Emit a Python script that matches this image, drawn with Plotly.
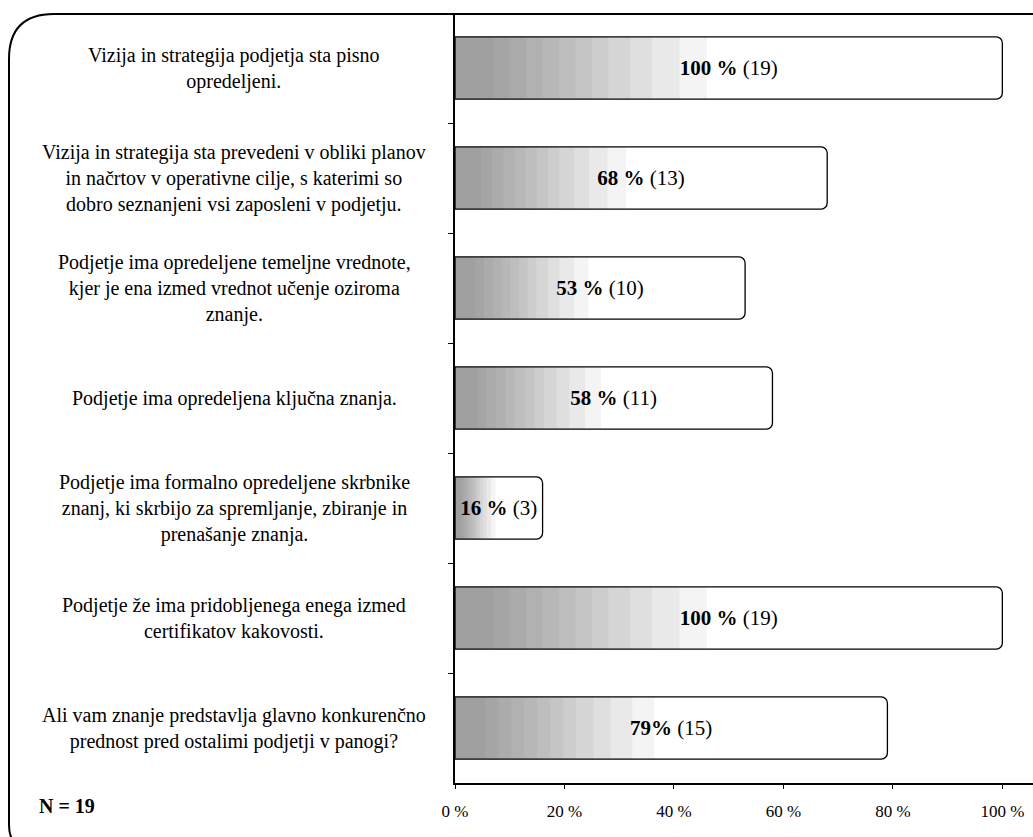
import plotly.graph_objects as go

categories = [
    "Vizija in strategija podjetja sta pisno<br>opredeljeni.",
    "Vizija in strategija sta prevedeni v obliki planov<br>in načrtov v operativne cilje, s katerimi so<br>dobro seznanjeni vsi zaposleni v podjetju.",
    "Podjetje ima opredeljene temeljne vrednote,<br>kjer je ena izmed vrednot učenje oziroma<br>znanje.",
    "Podjetje ima opredeljena ključna znanja.",
    "Podjetje ima formalno opredeljene skrbnike<br>znanj, ki skrbijo za spremljanje, zbiranje in<br>prenašanje znanja.",
    "Podjetje že ima pridobljenega enega izmed<br>certifikatov kakovosti.",
    "Ali vam znanje predstavlja glavno konkurenčno<br>prednost pred ostalimi podjetji v panogi?",
]
percent = [100, 68, 53, 58, 16, 100, 79]
counts = [19, 13, 10, 11, 3, 19, 15]
pct_labels = ["100 %", "68 %", "53 %", "58 %", "16 %", "100 %", "79%"]
x_tick_values = [0, 20, 40, 60, 80, 100]
x_tick_labels = ["0 %", "20 %", "40 %", "60 %", "80 %", "100 %"]
sample_note = "N = 19"

W, H = 1033, 837
L, R, T, B = 455, 0, 13, 54
PW, PH = W - L - R, H - T - B
FONT = "Liberation Serif, Times New Roman, serif"


def px(x):
    return (x - L) / PW


def py(y):
    return (H - B - y) / PH


fig = go.Figure()

# gradient layers (smooth fade from left)
fade_fracs = [0.46, 0.41, 0.36, 0.32, 0.28, 0.25, 0.22, 0.19, 0.16, 0.13, 0.10, 0.07]
for frac in fade_fracs:
    fig.add_trace(go.Bar(
        y=categories, x=[v * frac for v in percent], orientation="h",
        marker=dict(color="rgba(100,100,100,0.072)", line=dict(width=0), cornerradius=4),
        hoverinfo="skip", showlegend=False,
    ))

# outlined bar with label
fig.add_trace(go.Bar(
    y=categories, x=percent, orientation="h",
    marker=dict(color="rgba(0,0,0,0)", line=dict(color="black", width=1.3), cornerradius=6),
    text=[f"<b>{p}</b> ({c})" for p, c in zip(pct_labels, counts)],
    textposition="inside", insidetextanchor="middle", constraintext="none",
    textfont=dict(family=FONT, size=21, color="black"),
    showlegend=False,
))

annotations = []
for c in categories:
    annotations.append(dict(
        x=px(234), xref="paper", y=c, yref="y", text=c, showarrow=False,
        xanchor="center", yanchor="middle", align="center",
        font=dict(family=FONT, size=20, color="black"),
    ))
annotations.append(dict(
    x=px(37), xref="paper", y=py(806), yref="paper", text=f"<b>{sample_note}</b>",
    showarrow=False, xanchor="left", yanchor="middle",
    font=dict(family=FONT, size=20, color="black"),
))

# rounded outer frame
x0, x1 = px(9), px(1050)
y0, y1 = py(14), py(850)
rx_tl, ry_tl = 45 / PW, 45 / PH
rx_bl, ry_bl = 25 / PW, 25 / PH
frame_path = (
    f"M {x0},{y0 - ry_tl} Q {x0},{y0} {x0 + rx_tl},{y0} "
    f"L {x1},{y0} L {x1},{y1} L {x0 + rx_bl},{y1} "
    f"Q {x0},{y1} {x0},{y1 + ry_bl} Z"
)

fig.update_layout(
    width=W, height=H,
    margin=dict(l=L, r=R, t=T, b=B),
    paper_bgcolor="white", plot_bgcolor="white",
    barmode="overlay", bargap=0.435,
    annotations=annotations,
    shapes=[dict(type="path", path=frame_path, xref="paper", yref="paper",
                 line=dict(color="black", width=2), layer="below")],
    xaxis=dict(
        range=[0, 105.6], tickvals=x_tick_values, ticktext=x_tick_labels,
        showgrid=False, zeroline=False, showline=True, linecolor="black", linewidth=1.5,
        ticks="outside", ticklen=4, tickcolor="black", ticklabelstandoff=8,
        tickfont=dict(family=FONT, size=17, color="black"), fixedrange=True,
    ),
    yaxis=dict(
        categoryorder="array", categoryarray=categories, autorange="reversed",
        showticklabels=False, showgrid=False, zeroline=False,
        showline=True, linecolor="black", linewidth=1.5,
        ticks="outside", tickson="boundaries", ticklen=5, tickcolor="black",
    ),
)

fig.write_html("out.html")
